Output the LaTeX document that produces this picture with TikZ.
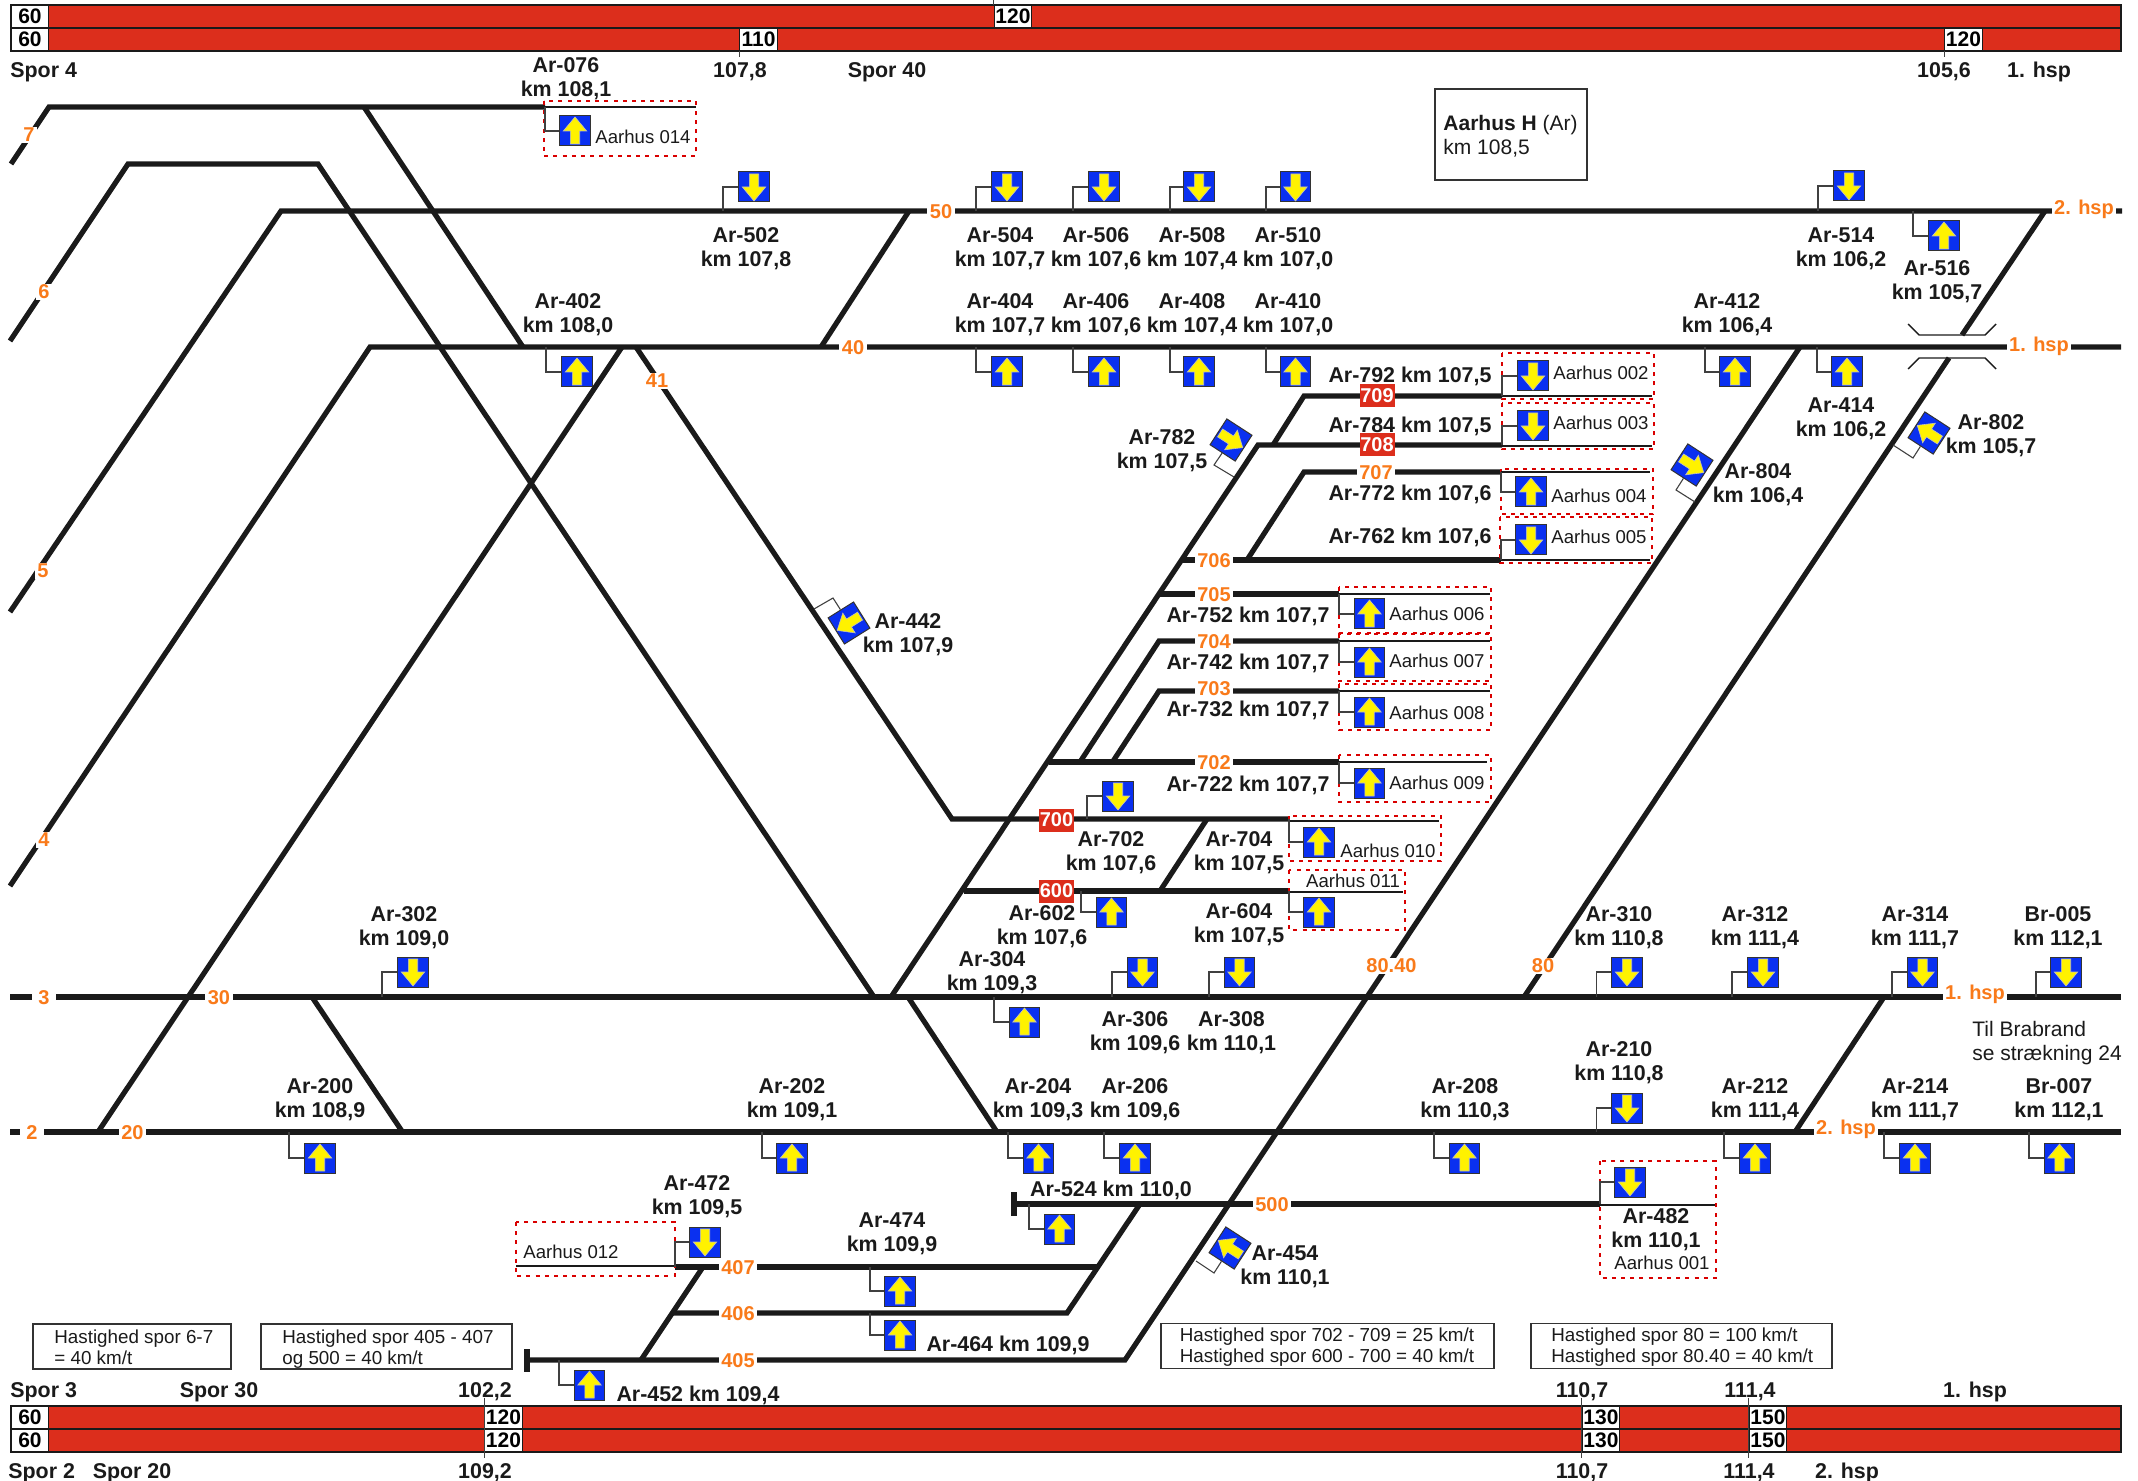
\documentclass[tikz,border=0pt]{standalone}
\usepackage{fontspec}
\setmainfont{Liberation Sans}
\usetikzlibrary{positioning}

\definecolor{bandred}{HTML}{DC2E1C}
\definecolor{sigblue}{HTML}{0A30F0}
\definecolor{tagorange}{HTML}{F97A1A}
\definecolor{railblack}{HTML}{1A1A1A}

% straight signal: name, centre, foot on the track, turn
\newcommand{\signal}[4]{%
  \node[sig_box, rotate=#4] (#1) at (#2) {};
  \draw[sig_arrow, shift={(#2)}, rotate=#4] (0,-14) -- (11.7,0) -- (4.7,0) -- (4.7,13) -- (-4.7,13) -- (-4.7,0) -- (-11.7,0) -- cycle;
  \coordinate (#1t) at (#3);
  \draw[sig_feed] (#1t) |- (#1);
}
% tilted signal: name, centre, foot on the track, corner, turn
\newcommand{\tilted}[5]{%
  \node[sig_box, rotate=#5] (#1) at (#2) {};
  \draw[sig_arrow, shift={(#2)}, rotate=#5] (0,-14) -- (11.7,0) -- (4.7,0) -- (4.7,13) -- (-4.7,13) -- (-4.7,0) -- (-11.7,0) -- cycle;
  \coordinate (#1t) at (#3);
  \coordinate (#1c) at (#4);
  \draw[sig_feed] (#1t) -- (#1c) -- (#1);
}

\begin{document}
\begin{tikzpicture}[
    x=0.5pt, y=-0.5pt,
    track/.style={draw=railblack, line width=2.6pt},
    track_thin/.style={draw=railblack, line width=0.7pt},
    zone_box/.style={draw=red!85!black, line width=0.8pt, dash pattern=on 2pt off 2.6pt},
    band/.style={draw=railblack, fill=bandred, line width=0.6pt},
    sig_box/.style={draw=black!80, fill=sigblue, line width=0.5pt, minimum width=15.4pt, minimum height=15pt, inner sep=0pt},
    sig_arrow/.style={draw=black!25, fill=yellow, line width=0.3pt},
    sig_feed/.style={draw=black!75, line width=0.55pt},
    sig_label/.style={font=\fontsize{10.7}{12}\selectfont\bfseries, text=railblack, align=center, inner sep=0pt, yshift=-1pt},
    plain_label/.style={font=\fontsize{10.5}{12}\selectfont, text=railblack, align=left, inner sep=0pt, yshift=-0.6pt},
    zone_label/.style={font=\fontsize{9.3}{11}\selectfont, text=railblack, inner sep=0pt},
    track_label/.style={font=\fontsize{10}{12}\selectfont\bfseries, text=tagorange, fill=white, inner xsep=1.25pt, inner ysep=0.6pt, yshift=-0.4pt},
    red_label/.style={font=\fontsize{10}{12}\selectfont\bfseries, text=white, fill=bandred, minimum width=17.5pt, minimum height=11.5pt, inner sep=0pt},
    speed_box/.style={draw=railblack, fill=white, line width=0.5pt, font=\fontsize{10.5}{12}\selectfont\bfseries, minimum width=18.7pt, minimum height=11.4pt, inner sep=0pt},
    note_box/.style={draw=black!80, line width=0.6pt, minimum height=22.5pt, inner sep=0pt},
    note_text/.style={font=\fontsize{9.4}{10.5}\selectfont, text=railblack, align=left, inner sep=0pt, anchor=west, yshift=-0.6pt}
]
\useasboundingbox (0,0) rectangle (2138,1481);

% Speed bands, top
\draw[band] (11,5) rectangle (2121,51);
\draw[band] (11,28) -- (2121,28);
\node[speed_box] (top60a) at (30,16.5) {60};
\node[speed_box] (top60b) at (30,39.5) {60};
\node[speed_box] (top120a) at (1013,16.5) {120};
\node[speed_box] (top110) at (758.5,39.5) {110};
\node[speed_box] (top120b) at (1963.5,39.5) {120};
\draw[sig_feed] (top120a.north west) -- ++(0,-5);
\draw[sig_feed] (top110.south west) -- ++(0,6);
\draw[sig_feed] (top120b.south west) -- ++(0,6);
\node[sig_label, anchor=west] (spor4) at (10,70) {Spor 4};
\node[sig_label] (km1078) at (740,70) {107,8};
\node[sig_label] (spor40) at (887,70) {Spor 40};
\node[sig_label] (km1056) at (1944,70) {105,6};
\node[sig_label] (hsptop) at (2039,70) {1. hsp};

% Speed bands, bottom
\draw[band] (11,1406) rectangle (2121,1452);
\draw[band] (11,1429) -- (2121,1429);
\node[speed_box] (bot60a) at (30,1417.5) {60};
\node[speed_box] (bot60b) at (30,1440.5) {60};
\node[speed_box] (bot120a) at (503.5,1417.5) {120};
\node[speed_box] (bot120b) at (503.5,1440.5) {120};
\node[speed_box] (bot130a) at (1601,1417.5) {130};
\node[speed_box] (bot130b) at (1601,1440.5) {130};
\node[speed_box] (bot150a) at (1768,1417.5) {150};
\node[speed_box] (bot150b) at (1768,1440.5) {150};
\draw[sig_feed] ([yshift=4pt]bot120a.north west) -- ([yshift=-3pt]bot120b.south west);
\draw[sig_feed] ([yshift=4pt]bot130a.north west) -- ([yshift=-3pt]bot130b.south west);
\draw[sig_feed] ([yshift=4pt]bot150a.north west) -- ([yshift=-3pt]bot150b.south west);
\node[sig_label, anchor=west] (spor3) at (10,1390) {Spor 3};
\node[sig_label] (spor30) at (219,1390) {Spor 30};
\node[sig_label] (km1022) at (485,1390) {102,2};
\node[sig_label] (km1107a) at (1582,1390) {110,7};
\node[sig_label] (km1114a) at (1750,1390) {111,4};
\node[sig_label] (hspbot1) at (1975,1390) {1. hsp};
\node[sig_label, anchor=west] (spor2) at (8,1471) {Spor 2};
\node[sig_label] (spor20) at (132,1471) {Spor 20};
\node[sig_label] (km1092) at (485,1471) {109,2};
\node[sig_label] (km1107b) at (1582,1471) {110,7};
\node[sig_label] (km1114b) at (1749,1471) {111,4};
\node[sig_label] (hspbot2) at (1847,1471) {2. hsp};

% Tracks 7, 6, 5, 4 and the main tracks
\draw[track] (11,164) -- (49,107) -- (545,107);
\draw[track] (364,107) -- (523,347);
\draw[track] (10,341) -- (128,164) -- (318,164) -- (874,997);
\draw[track] (10,612) -- (281,211) -- (2122,211);
\draw[track] (10,886) -- (370,347) -- (2121,347);
\draw[track] (909,211) -- (821,347);
\draw[track] (622,347) -- (98,1132);
\draw[track] (10,997) -- (2121,997);
\draw[track] (10,1132) -- (2121,1132);
\draw[track] (312,997) -- (402.5,1132);
\draw[track] (908,997) -- (997,1132);
\draw[track] (1884,997) -- (1795,1132);

% Track 41 and the 700 yard
\draw[track] (636,347) -- (952,819) -- (1289,819);
\draw[track] (1207,819) -- (1160,891);
\draw[track] (964,891) -- (1289,891);
\draw[track] (891,997) -- (1258,445) -- (1502,445);
\draw[track] (1273,445) -- (1304,396) -- (1502,396);
\draw[track] (1183,560) -- (1501,560);
\draw[track] (1247,560) -- (1304,472) -- (1501,472);
\draw[track] (1159,594) -- (1339,594);
\draw[track] (1080,762) -- (1159,641) -- (1339,641);
\draw[track] (1112.5,762) -- (1159,691) -- (1339,691);
\draw[track] (1049,762) -- (1339,762);

% Tracks 80 and 80.40, with the bridge
\draw[track] (2045,211) -- (1962,335);
\draw[track] (1949,358) -- (1524,997);
\draw[track] (1800,347) -- (1125,1360) -- (527,1360);
\draw[track_thin] (1908,324) -- (1919,335) -- (1985,335) -- (1996,324);
\draw[track_thin] (1908,369) -- (1919,358) -- (1985,358) -- (1996,369);

% Tracks 405 - 407 and 500
\draw[track] (527,1349) -- (527,1372);
\draw[track] (1014,1192) -- (1014,1216);
\draw[track] (1014,1204) -- (1600,1204);
\draw[track] (1140,1204) -- (1067,1313) -- (673,1313);
\draw[track] (675,1267) -- (1098,1267);
\draw[track] (703,1267) -- (641,1360);

% Track numbers
\node[track_label] (t7) at (29,134) {7};
\node[track_label] (t6) at (44,291) {6};
\node[track_label] (t5) at (43,570) {5};
\node[track_label] (t4) at (44,839) {4};
\node[track_label, inner xsep=3pt] (t3) at (44,997) {3};
\node[track_label] (t30) at (219,997) {30};
\node[track_label, inner xsep=3pt] (t2) at (32,1132) {2};
\node[track_label] (t20) at (132.5,1132) {20};
\node[track_label] (t50) at (941,211) {50};
\node[track_label] (t40) at (853,347) {40};
\node[track_label] (t41) at (657,380) {41};
\node[track_label] (hsp2a) at (2084,209) {2. hsp};
\node[track_label] (hsp1a) at (2039,346) {1. hsp};
\node[track_label] (hsp1b) at (1975,994) {1. hsp};
\node[track_label] (hsp2b) at (1846,1129) {2. hsp};
\node[track_label] (t80) at (1543,965) {80};
\node[track_label] (t8040) at (1391.5,965) {80.40};
\node[track_label] (t707) at (1376,472) {707};
\node[track_label] (t706) at (1214,560) {706};
\node[track_label] (t705) at (1214,594) {705};
\node[track_label] (t704) at (1214,641) {704};
\node[track_label] (t703) at (1214,688) {703};
\node[track_label] (t702) at (1214,762) {702};
\node[track_label] (t500) at (1272,1204) {500};
\node[track_label] (t407) at (738,1267) {407};
\node[track_label] (t406) at (738,1313) {406};
\node[track_label] (t405) at (738,1360) {405};
\node[red_label] (t709) at (1377,396) {709};
\node[red_label] (t708) at (1377,445) {708};
\node[red_label] (t700) at (1056.5,820) {700};
\node[red_label] (t600) at (1056.5,891) {600};

% Aarhus zones
\draw[zone_box] (544,101) rectangle (696,156);
\draw[track_thin] (545,107) -- (696,107);
\node[zone_label] (a014) at (643,137) {Aarhus 014};
\draw[zone_box] (1502,353) rectangle (1654,399);
\draw[track_thin] (1502,396) -- (1652,396);
\node[zone_label] (a002) at (1601,373) {Aarhus 002};
\draw[zone_box] (1502,403) rectangle (1654,449);
\draw[track_thin] (1502,446) -- (1652,446);
\node[zone_label] (a003) at (1601,423) {Aarhus 003};
\draw[zone_box] (1501,469) rectangle (1653,514);
\draw[track_thin] (1501,472) -- (1650,472);
\node[zone_label] (a004) at (1599,496) {Aarhus 004};
\draw[zone_box] (1500,517) rectangle (1652,563);
\draw[track_thin] (1501,560) -- (1650,560);
\node[zone_label] (a005) at (1599,537) {Aarhus 005};
\draw[zone_box] (1339,587) rectangle (1491,633);
\draw[track_thin] (1339,594) -- (1490,594);
\node[zone_label] (a006) at (1437,614) {Aarhus 006};
\draw[zone_box] (1339,634) rectangle (1491,681);
\draw[track_thin] (1339,641) -- (1490,641);
\node[zone_label] (a007) at (1437,661) {Aarhus 007};
\draw[zone_box] (1339,684) rectangle (1491,730);
\draw[track_thin] (1339,691) -- (1490,691);
\node[zone_label] (a008) at (1437,713) {Aarhus 008};
\draw[zone_box] (1339,755) rectangle (1491,802);
\draw[track_thin] (1339,762) -- (1487,762);
\node[zone_label] (a009) at (1437,783) {Aarhus 009};
\draw[zone_box] (1289,816) rectangle (1441,861);
\draw[track_thin] (1289,821) -- (1439,821);
\node[zone_label] (a010) at (1388,851) {Aarhus 010};
\draw[zone_box] (1289,870) rectangle (1405,930);
\draw[track_thin] (1289,892) -- (1403,892);
\node[zone_label] (a011) at (1353,881) {Aarhus 011};
\draw[zone_box] (516,1222) rectangle (675,1276);
\draw[track_thin] (516,1266) -- (675,1266);
\node[zone_label] (a012) at (571,1252) {Aarhus 012};
\draw[zone_box] (1600,1161) rectangle (1716,1278);
\draw[track_thin] (1600,1205) -- (1715,1205);
\node[zone_label] (a001) at (1662,1263) {Aarhus 001};

% Signals at the top
\signal{ar076}{575,131}{545,107}{0}
\signal{ar402}{577,372}{546,347}{0}
\signal{ar502}{754,187}{723,211}{180}
\signal{ar504}{1007,187}{976,211}{180}
\signal{ar506}{1104,187}{1073,211}{180}
\signal{ar508}{1199,187}{1170,211}{180}
\signal{ar510}{1295.5,187}{1266,211}{180}
\signal{ar514}{1849,186}{1818,211}{180}
\signal{ar516}{1944,236}{1913,211}{0}
\signal{ar404}{1007,372}{976,347}{0}
\signal{ar406}{1104,372}{1073,347}{0}
\signal{ar408}{1199,372}{1170,347}{0}
\signal{ar410}{1295.5,372}{1266,347}{0}
\signal{ar412}{1735,372}{1705,347}{0}
\signal{ar414}{1847,372}{1817,347}{0}
\tilted{ar442}{849,623}{814,609}{833,598}{122}
\tilted{ar782}{1231,440}{1234,477}{1214,465}{-123}
\tilted{ar802}{1929,433}{1893,445}{1913,458}{57}
\tilted{ar804}{1692,465}{1695,502}{1676,490}{-123}

% Signals in the yard
\signal{ar792}{1533,376}{1502,396}{180}
\signal{ar784}{1533,426}{1502,445}{180}
\signal{ar772}{1531,492}{1501,472}{0}
\signal{ar762}{1531,540}{1501,560}{180}
\signal{ar752}{1369.5,614}{1339,594}{0}
\signal{ar742}{1369.5,662}{1339,641}{0}
\signal{ar732}{1369.5,712}{1339,691}{0}
\signal{ar722}{1369.5,783}{1339,762}{0}
\signal{ar702}{1118,796}{1087,819}{180}
\signal{ar704}{1319,842}{1289,819}{0}
\signal{ar602}{1111.5,912}{1081,891}{0}
\signal{ar604}{1319,912}{1289,891}{0}

% Signals on track 3
\signal{ar302}{413,972}{382,997}{180}
\signal{ar304}{1024.5,1022}{994,997}{0}
\signal{ar306}{1142.5,972}{1112,997}{180}
\signal{ar308}{1239.5,972}{1209,997}{180}
\signal{ar310}{1627,972}{1596.5,997}{180}
\signal{ar312}{1763,972}{1732,997}{180}
\signal{ar314}{1922.5,972}{1892,997}{180}
\signal{br005}{2066,972}{2036,997}{180}

% Signals on track 2
\signal{ar200}{320,1158}{289,1132}{0}
\signal{ar202}{792,1158}{762,1132}{0}
\signal{ar204}{1038.5,1158}{1008,1132}{0}
\signal{ar206}{1135,1158}{1104,1132}{0}
\signal{ar208}{1464.5,1158}{1434,1132}{0}
\signal{ar210}{1627,1108}{1596.5,1132}{180}
\signal{ar212}{1755,1158}{1724,1132}{0}
\signal{ar214}{1915,1158}{1884,1132}{0}
\signal{br007}{2059.5,1158}{2029,1132}{0}

% Signals at the bottom
\signal{ar472}{705,1242}{675,1267}{180}
\signal{ar474}{900,1291}{870,1267}{0}
\signal{ar464}{900,1335}{870,1313}{0}
\signal{ar452}{589.5,1385}{559,1360}{0}
\signal{ar524}{1059.5,1229}{1029,1204}{0}
\signal{ar482}{1630,1182}{1600,1204}{180}
\tilted{ar454}{1230,1248}{1196,1261}{1214,1273}{57}

% Signal names
\node[sig_label] (lb076) at (566,77) {Ar-076\\km 108,1};
\node[sig_label] (lb502) at (746,247) {Ar-502\\km 107,8};
\node[sig_label] (lb504) at (1000,247) {Ar-504\\km 107,7};
\node[sig_label] (lb506) at (1096,247) {Ar-506\\km 107,6};
\node[sig_label] (lb508) at (1192,247) {Ar-508\\km 107,4};
\node[sig_label] (lb510) at (1288,247) {Ar-510\\km 107,0};
\node[sig_label] (lb514) at (1841,247) {Ar-514\\km 106,2};
\node[sig_label] (lb516) at (1937,280) {Ar-516\\km 105,7};
\node[sig_label] (lb402) at (568,313) {Ar-402\\km 108,0};
\node[sig_label] (lb404) at (1000,313) {Ar-404\\km 107,7};
\node[sig_label] (lb406) at (1096,313) {Ar-406\\km 107,6};
\node[sig_label] (lb408) at (1192,313) {Ar-408\\km 107,4};
\node[sig_label] (lb410) at (1288,313) {Ar-410\\km 107,0};
\node[sig_label] (lb412) at (1727,313) {Ar-412\\km 106,4};
\node[sig_label] (lb414) at (1841,417) {Ar-414\\km 106,2};
\node[sig_label] (lb442) at (908,633) {Ar-442\\km 107,9};
\node[sig_label] (lb782) at (1162,449) {Ar-782\\km 107,5};
\node[sig_label] (lb802) at (1991,434) {Ar-802\\km 105,7};
\node[sig_label] (lb804) at (1758,483) {Ar-804\\km 106,4};
\node[sig_label] (lb792) at (1410,374) {Ar-792 km 107,5};
\node[sig_label] (lb784) at (1410,424) {Ar-784 km 107,5};
\node[sig_label] (lb772) at (1410,492) {Ar-772 km 107,6};
\node[sig_label] (lb762) at (1410,535) {Ar-762 km 107,6};
\node[sig_label] (lb752) at (1248,614) {Ar-752 km 107,7};
\node[sig_label] (lb742) at (1248,661) {Ar-742 km 107,7};
\node[sig_label] (lb732) at (1248,708) {Ar-732 km 107,7};
\node[sig_label] (lb722) at (1248,783) {Ar-722 km 107,7};
\node[sig_label] (lb702) at (1111,851) {Ar-702\\km 107,6};
\node[sig_label] (lb704) at (1239,851) {Ar-704\\km 107,5};
\node[sig_label] (lb602) at (1042,925) {Ar-602\\km 107,6};
\node[sig_label] (lb604) at (1239,923) {Ar-604\\km 107,5};
\node[sig_label] (lb302) at (404,926) {Ar-302\\km 109,0};
\node[sig_label] (lb304) at (992,971) {Ar-304\\km 109,3};
\node[sig_label] (lb306) at (1135,1031) {Ar-306\\km 109,6};
\node[sig_label] (lb308) at (1231.5,1031) {Ar-308\\km 110,1};
\node[sig_label] (lb310) at (1619,926) {Ar-310\\km 110,8};
\node[sig_label] (lb312) at (1755,926) {Ar-312\\km 111,4};
\node[sig_label] (lb314) at (1915,926) {Ar-314\\km 111,7};
\node[sig_label] (lb005) at (2058,926) {Br-005\\km 112,1};
\node[sig_label] (lb200) at (320,1098) {Ar-200\\km 108,9};
\node[sig_label] (lb202) at (792,1098) {Ar-202\\km 109,1};
\node[sig_label] (lb204) at (1038,1098) {Ar-204\\km 109,3};
\node[sig_label] (lb206) at (1135,1098) {Ar-206\\km 109,6};
\node[sig_label] (lb208) at (1465,1098) {Ar-208\\km 110,3};
\node[sig_label] (lb210) at (1619,1061) {Ar-210\\km 110,8};
\node[sig_label] (lb212) at (1755,1098) {Ar-212\\km 111,4};
\node[sig_label] (lb214) at (1915,1098) {Ar-214\\km 111,7};
\node[sig_label] (lb007) at (2059,1098) {Br-007\\km 112,1};
\node[sig_label] (lb472) at (697,1195) {Ar-472\\km 109,5};
\node[sig_label] (lb474) at (892,1232) {Ar-474\\km 109,9};
\node[sig_label] (lb464) at (1008,1343) {Ar-464 km 109,9};
\node[sig_label] (lb452) at (698,1393) {Ar-452 km 109,4};
\node[sig_label] (lb524) at (1111,1188) {Ar-524 km 110,0};
\node[sig_label] (lb482) at (1656,1228) {Ar-482\\km 110,1};
\node[sig_label] (lb454) at (1285,1265) {Ar-454\\km 110,1};

% Station box and notes
\node[draw=black!80, line width=0.6pt, minimum width=76pt, minimum height=45.5pt, inner sep=0pt] (station) at (1511,134.5) {};
\node[plain_label, anchor=west] (stationtext) at (1443,135) {\textbf{Aarhus H} (Ar)\\km 108,5};
\node[plain_label, anchor=west] (brabrand) at (1972,1042) {Til Brabrand\\se strækning 24};
\node[note_box, minimum width=99pt] (note1) at (132,1346.5) {};
\node[note_text] (note1text) at (54,1346) {Hastighed spor 6-7\\= 40 km/t};
\node[note_box, minimum width=125.5pt] (note2) at (386.5,1346.5) {};
\node[note_text] (note2text) at (282,1348) {Hastighed spor 405 - 407\\og 500 = 40 km/t};
\node[note_box, minimum width=166.5pt] (note3) at (1327.5,1346) {};
\node[note_text] (note3text) at (1179.5,1346) {Hastighed spor 702 - 709 = 25 km/t\\Hastighed spor 600 - 700 = 40 km/t};
\node[note_box, minimum width=150.5pt] (note4) at (1681.5,1346) {};
\node[note_text] (note4text) at (1551,1346) {Hastighed spor 80 = 100 km/t\\Hastighed spor 80.40 = 40 km/t};

\end{tikzpicture}
\end{document}
